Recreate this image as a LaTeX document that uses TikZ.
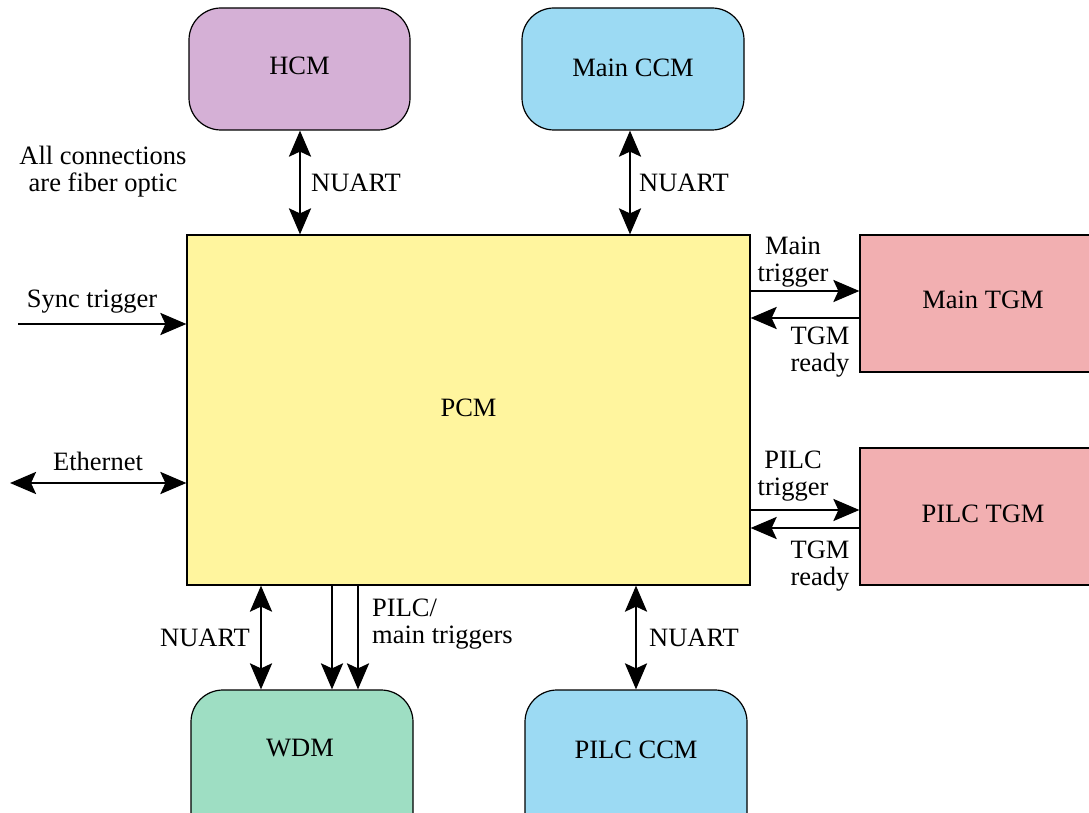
\documentclass[tikz,border=0pt]{standalone}
\usepackage{fontspec}
\setmainfont{Liberation Serif}
\usetikzlibrary{arrows.meta,positioning}
\definecolor{hcmc}{HTML}{D5B0D6}
\definecolor{ccmc}{HTML}{9CDAF3}
\definecolor{pcmc}{HTML}{FFF59E}
\definecolor{tgmc}{HTML}{F2AFB1}
\definecolor{wdmc}{HTML}{9EDEC3}
\begin{document}
\begin{tikzpicture}[x=1pt,y=-1pt,
  every node/.style={font=\rmfamily\fontsize{26.5}{27}\selectfont, inner sep=0pt},
  rbox/.style={draw=black, line width=1.2pt, rounded corners=32pt},
  sbox/.style={draw=black, line width=1.2pt},
  conn/.style={line width=2.8pt, -{Stealth[length=26pt,width=22pt,inset=5pt]}},
  dconn/.style={line width=2.8pt, {Stealth[length=26pt,width=22pt,inset=5pt]}-{Stealth[length=26pt,width=22pt,inset=5pt]}},
  lbl/.style={align=center}
]
\useasboundingbox (0,0) rectangle (1089,813);
\begin{scope}
\clip (0,0) rectangle (1089,813);
% boxes
\node[rbox, fill=hcmc, minimum width=221pt, minimum height=122pt] (hcm) at (299.5,69) {};
\node (hcmt) at (299.5,66) {HCM};
\node[rbox, fill=ccmc, minimum width=222pt, minimum height=122pt] (mccm) at (633,69) {};
\node (mccmt) at (633,68) {Main CCM};
\node[sbox, fill=pcmc, minimum width=563pt, minimum height=350pt] (pcm) at (468.5,410) {};
\node (pcmt) at (468.5,408) {PCM};
\node[sbox, fill=tgmc, minimum width=236pt, minimum height=137pt] (mtgm) at (978,303.5) {};
\node (mtgmt) at (983,300) {Main TGM};
\node[sbox, fill=tgmc, minimum width=236pt, minimum height=137pt] (ptgm) at (978,516.5) {};
\node (ptgmt) at (983,514) {PILC TGM};
\node[rbox, fill=wdmc, minimum width=222pt, minimum height=170pt] (wdm) at (302,775) {};
\node (wdmt) at (300,748) {WDM};
\node[rbox, fill=ccmc, minimum width=222pt, minimum height=170pt] (pccm) at (636,775) {};
\node (pccmt) at (636,750) {PILC CCM};
\end{scope}
% coordinates
\coordinate (sync) at (18,324);
\coordinate (eth) at (10,483);
% top connections
\draw[dconn] (hcm.south -| 300,0) -- (pcm.north -| 300,0);
\draw[dconn] (mccm.south -| 630,0) -- (pcm.north -| 630,0);
\node[anchor=west] (nu1) at (311,183) {NUART};
\node[anchor=west] (nu2) at (639,183) {NUART};
\node[lbl] (note) at (103,172) {All connections\\are fiber optic};
% left
\draw[conn] (sync) -- (sync -| pcm.west);
\node (syncl) at (92,302) {Sync trigger};
\draw[dconn] (eth) -- (eth -| pcm.west);
\node (ethl) at (98,461) {Ethernet};
% right
\draw[conn] (pcm.east |- 0,291) -- (mtgm.west |- 0,291);
\draw[conn] (mtgm.west |- 0,318) -- (pcm.east |- 0,318);
\node[lbl] (mtl) at (793,262) {Main\\trigger};
\node[lbl] (mrl) at (820,352) {TGM\\ready};
\draw[conn] (pcm.east |- 0,510) -- (ptgm.west |- 0,510);
\draw[conn] (ptgm.west |- 0,528) -- (pcm.east |- 0,528);
\node[lbl] (ptl) at (793,476) {PILC\\trigger};
\node[lbl] (prl) at (820,566) {TGM\\ready};
% bottom
\draw[dconn] (pcm.south -| 261,0) -- (wdm.north -| 261,0);
\node[anchor=east] (nu3) at (250,638) {NUART};
\draw[conn] (pcm.south -| 332,0) -- (wdm.north -| 332,0);
\draw[conn] (pcm.south -| 358,0) -- (wdm.north -| 358,0);
\node[anchor=west, align=left] (trl) at (372,624) {PILC/\\main triggers};
\draw[dconn] (pcm.south -| 636,0) -- (pccm.north -| 636,0);
\node[anchor=west] (nu4) at (649,638) {NUART};
\end{tikzpicture}
\end{document}
